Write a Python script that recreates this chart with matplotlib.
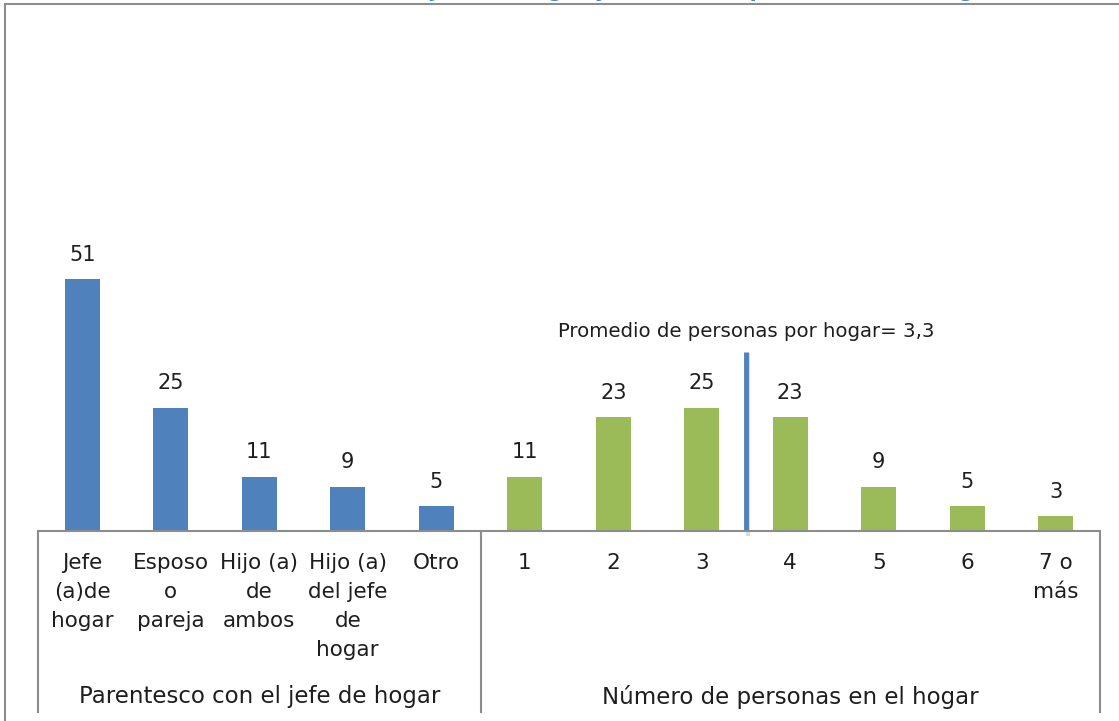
import matplotlib
matplotlib.use("Agg")
import matplotlib.pyplot as plt
from matplotlib.lines import Line2D
from matplotlib.transforms import blended_transform_factory

plt.rcParams['font.family'] = ['DejaVu Sans']

parent_labels = ["Jefe\n(a)de\nhogar", "Esposo\no\npareja", "Hijo (a)\nde\nambos",
                 "Hijo (a)\ndel jefe\nde\nhogar", "Otro"]
parent_values = [51, 25, 11, 9, 5]
size_labels = ["1", "2", "3", "4", "5", "6", "7 o\nmás"]
size_values = [11, 23, 25, 23, 9, 5, 3]
group_labels = ["Parentesco con el jefe de hogar", "Número de personas en el hogar"]
mean_text = "Promedio de personas por hogar= 3,3"
title = "Parentesco con el jefe de hogar y número de personas en el hogar (%)"

BLUE = "#4F81BD"
GREEN = "#9BBB59"
GRAY = "#8C8C8C"
TXT = "#1E1E1E"

W, H = 1119, 721
fig = plt.figure(figsize=(W / 100, H / 100), dpi=100)

# axes: x from 38 to 1100 px, baseline at y=531 px
left = 38 / W
right = 1100 / W
bottom = 1 - 531 / H
top = 1 - 37 / H
ax = fig.add_axes([left, bottom, right - left, top - bottom])

labels = parent_labels + size_labels
values = parent_values + size_values
colors = [BLUE] * len(parent_values) + [GREEN] * len(size_values)
x = list(range(len(values)))
ax.bar(x, values, width=0.4, color=colors)
ax.set_xlim(-0.5, len(values) - 0.5)
ax.set_ylim(0, 100)

for xi, v in zip(x, values):
    ax.annotate(str(v), (xi, v), xytext=(0, 17.5), textcoords="offset points",
                ha="center", va="center", fontsize=15, color=TXT)

ax.set_xticks(x)
ax.set_xticklabels(labels, fontsize=15.5, linespacing=1.55, color=TXT)
ax.tick_params(axis="x", length=0, pad=16)
ax.set_yticks([])
for s in ["top", "right", "left"]:
    ax.spines[s].set_visible(False)
ax.spines["bottom"].set_color(GRAY)
ax.spines["bottom"].set_linewidth(1.5)

# separators below axis
bt = blended_transform_factory(ax.transData, fig.transFigure)
for sx in [-0.5, len(parent_values) - 0.5, len(values) - 0.5]:
    fig.add_artist(Line2D([sx, sx], [bottom, 1 - 712 / H], transform=bt,
                          color=GRAY, lw=1.5))

# group labels
gx = [(len(parent_values) - 1) / 2, len(parent_values) + (len(size_values) - 1) / 2]
for g, lab in zip(gx, group_labels):
    fig.text(g, 1 - 697 / H, lab, transform=bt, ha="center", va="center",
             fontsize=16.5, color=TXT)

# mean line (between 3 and 4 persons)
mean_x = len(parent_values) + 2.5
ax.plot([mean_x + 0.02, mean_x + 0.02], [-1, 36], color="#BBBBBB", lw=3, alpha=0.5,
        clip_on=False, solid_capstyle="butt")
ax.plot([mean_x, mean_x], [0, 36.3], color=BLUE, lw=3.5, clip_on=False,
        solid_capstyle="butt")
ax.text(mean_x, 40.4, mean_text, ha="center", va="center", fontsize=14.2,
        color=TXT)

# frame
fig.add_artist(Line2D([5 / W, 1], [1 - 4 / H, 1 - 4 / H], transform=fig.transFigure,
                      color=GRAY, lw=1.5))
fig.add_artist(Line2D([5 / W, 5 / W], [1 - 4 / H, 0], transform=fig.transFigure,
                      color=GRAY, lw=1.5))

# title (mostly cut off above the image)
fig.text(1045 / W, 1 + 3 / H, title, ha="right", va="baseline", fontsize=15,
         fontweight="bold", color=BLUE)

fig.savefig("out.png", dpi=100)
